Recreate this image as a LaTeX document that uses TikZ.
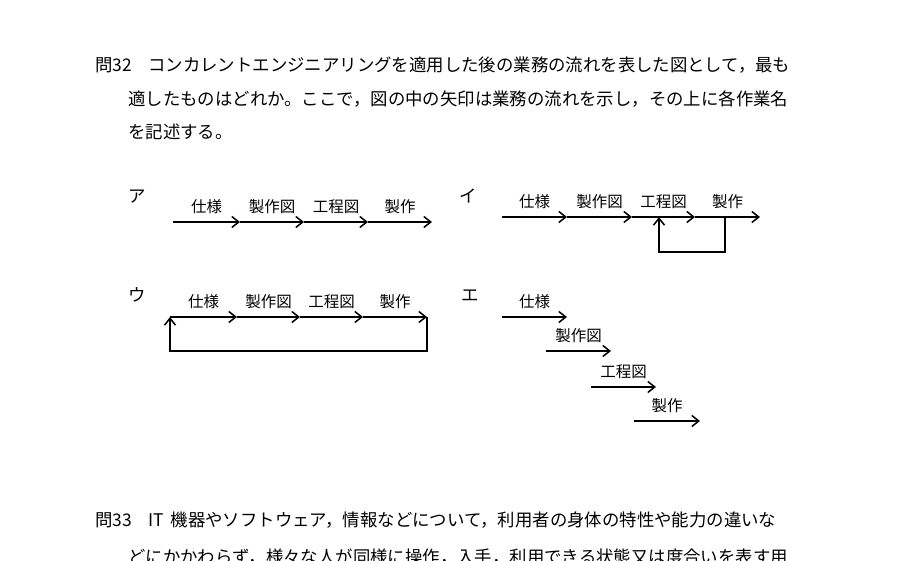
\documentclass[tikz,border=0pt]{standalone}
\usepackage{fontspec}
\setmainfont{Noto Sans CJK JP}
\usetikzlibrary{arrows.meta}
\tikzset{
  flow/.style={line width=1.5pt, -{Straight Barb[length=7pt,width=11pt]}},
  task/.style={above=7.5pt, inner sep=0pt, font=\fontsize{15.5}{18}\selectfont},
  body/.style={anchor=base west, inner sep=0pt, font=\fontsize{17.4}{20}\selectfont},
  choice/.style={anchor=base, inner sep=0pt, font=\fontsize{17.4}{20}\selectfont},
}

\begin{document}
\begin{tikzpicture}[x=1pt, y=-1pt]
        \path[use as bounding box, fill=white] (0,0) rectangle (900,561);
        % question text
        \node[body] (q32) at (95,71.6) {問32};
        \node[body] (q32a) at (148,71.6) {コンカレントエンジニアリングを適用した後の業務の流れを表した図として，最も};
        \node[body] (q32b) at (128,105.6) {適したものはどれか。ここで，図の中の矢印は業務の流れを示し，その上に各作業名};
        \node[body] (q32c) at (128,139) {を記述する。};
        % ア
        \node[choice] (optA) at (137,202.6) {ア};
        \foreach \x [count=\i from 0] in {173,240,304,368,432}
            \coordinate (a\i) at (\x,222);
        \foreach \t [count=\i from 1] in {仕様,製作図,工程図,製作} {
            \pgfmathtruncatemacro{\j}{\i-1}
            \draw[flow] (a\j) -- node[task] (ta\i) {\t} (a\i);
        }
        % イ
        \node[choice] (optB) at (468,202.6) {イ};
        \foreach \x [count=\i from 0] in {502,567,632,695,760}
            \coordinate (b\i) at (\x,217);
        \foreach \t [count=\i from 1] in {仕様,製作図,工程図,製作} {
            \pgfmathtruncatemacro{\j}{\i-1}
            \draw[flow] (b\j) -- node[task] (tb\i) {\t} (b\i);
        }
        \coordinate (bout) at (725,217);
        \coordinate (bin) at (659,217);
        \draw[flow] (bout) -- ++(0,35) -| (bin);
        % ウ
        \node[choice] (optC) at (137,301.6) {ウ};
        \foreach \x [count=\i from 0] in {170,237,300,363,427}
            \coordinate (c\i) at (\x,317);
        \foreach \t [count=\i from 1] in {仕様,製作図,工程図,製作} {
            \pgfmathtruncatemacro{\j}{\i-1}
            \draw[flow] (c\j) -- node[task] (tc\i) {\t} (c\i);
        }
        \draw[flow] (c4) -- ++(0,34) -| (c0);
        % エ
        \node[choice] (optD) at (470,301.6) {エ};
        \foreach \t/\xa/\xb/\y [count=\i] in {仕様/502/567/317, 製作図/546/611/351, 工程図/591/656/387, 製作/634/700/421} {
            \coordinate (ds\i) at (\xa,\y);
            \coordinate (de\i) at (\xb,\y);
            \draw[flow] (ds\i) -- node[task] (td\i) {\t} (de\i);
        }
        % next question
        \node[body] (q33) at (95,526.6) {問33};
        \node[body] (q33a) at (148,526.6) {IT\hspace{0.4em}機器やソフトウェア，情報などについて，利用者の身体の特性や能力の違いな};
        \node[body] (q33b) at (128,563) {どにかかわらず，様々な人が同様に操作，入手，利用できる状態又は度合いを表す用};
\end{tikzpicture}
\end{document}
